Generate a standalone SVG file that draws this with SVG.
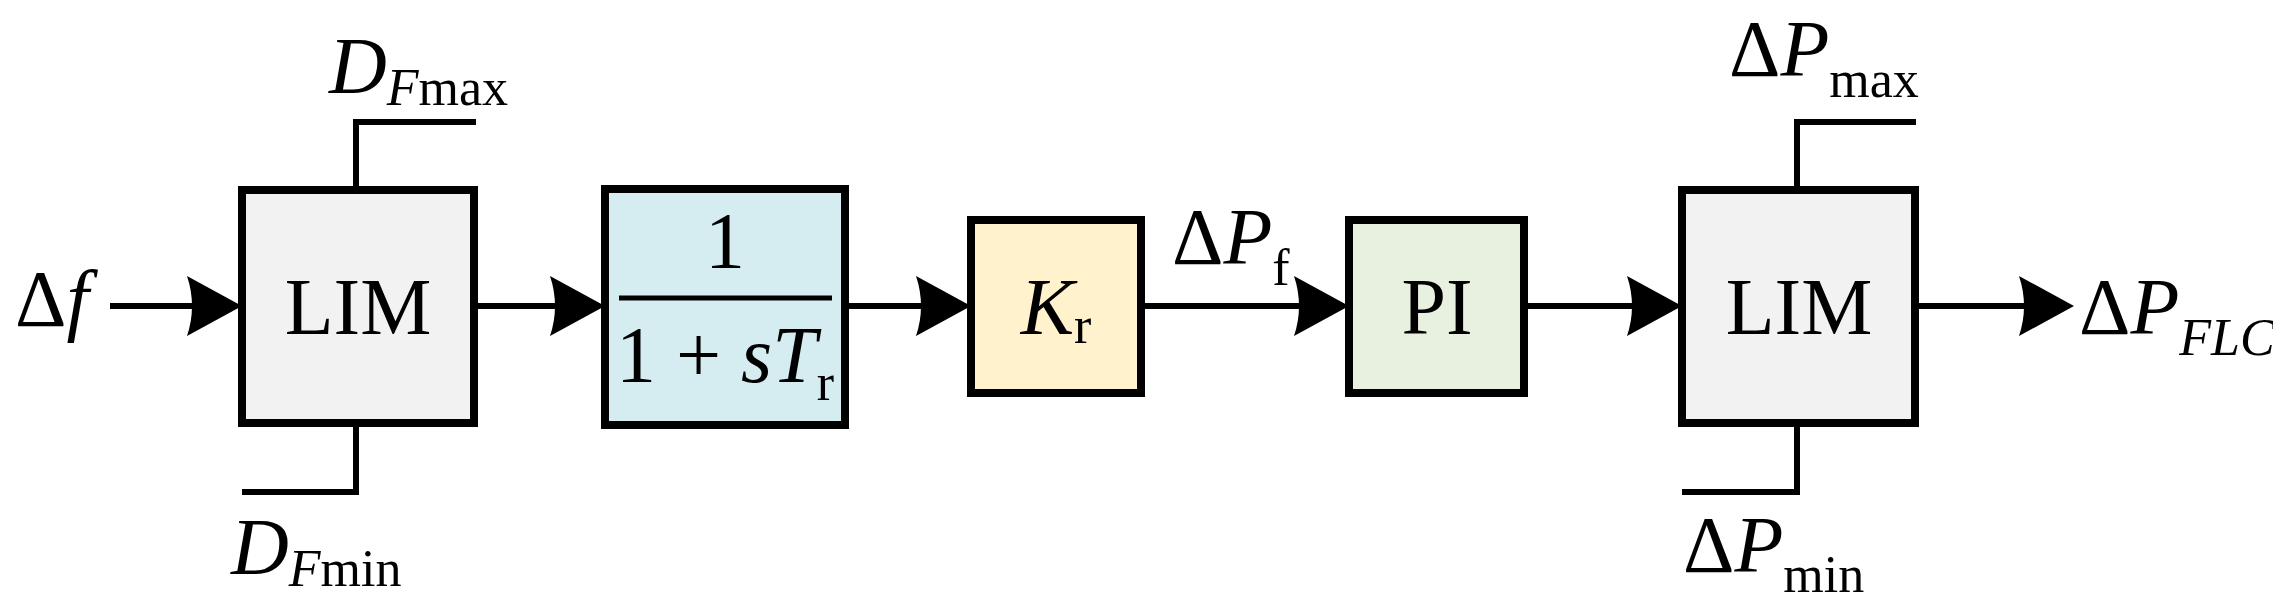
<svg xmlns="http://www.w3.org/2000/svg" width="2273" height="608" viewBox="0 0 2273 608" font-family="Liberation Serif, Times New Roman, serif">
<style>
.box{stroke:#000;stroke-width:8}
.ln{stroke:#000;stroke-width:6;fill:none}
text{font-family:'Liberation Serif','Times New Roman',serif;fill:#000}
.m{font-size:80px}
.i{font-style:italic}
.s{font-size:52px;font-style:normal}
</style>
<defs>
<path id="ah" d="M0,0 L-55,-30 Q-45,0 -55,30 Z" fill="#000"/>
</defs>
<g id="connectors">
<path class="ln" d="M110,306H200"/><use href="#ah" x="242" y="306"/>
<path class="ln" d="M474,306H565"/><use href="#ah" x="605" y="306"/>
<path class="ln" d="M845,306H930"/><use href="#ah" x="971" y="306"/>
<path class="ln" d="M1141,306H1310"/><use href="#ah" x="1349" y="306"/>
<path class="ln" d="M1524,306H1642"/><use href="#ah" x="1682" y="306"/>
<path class="ln" d="M1915,306H2035"/><use href="#ah" x="2074" y="306"/>
<path class="ln" d="M356,190V122H476"/>
<path class="ln" d="M356,423V492H242"/>
<path class="ln" d="M1797,190V122H1916"/>
<path class="ln" d="M1797,423V492H1682"/>
</g>
<g id="lim1">
<rect class="box" x="242" y="190" width="232" height="233" fill="#f2f2f2"/>
<text class="m" x="358" y="334" text-anchor="middle">LIM</text>
</g>
<g id="lag">
<rect class="box" x="605" y="189" width="240" height="236" fill="#d5edf1"/>
<text class="m" x="725" y="268" text-anchor="middle">1</text>
<path stroke="#000" stroke-width="5" d="M619,298H832"/>
<text class="m" x="725" y="382" text-anchor="middle">1 + <tspan class="i">sT</tspan><tspan class="s" dy="18">r</tspan></text>
</g>
<g id="kr">
<rect class="box" x="971" y="220" width="170" height="173" fill="#fff2cc"/>
<text class="m" x="1056" y="334" text-anchor="middle"><tspan class="i">K</tspan><tspan class="s" dy="9">r</tspan></text>
</g>
<g id="pi">
<rect class="box" x="1349" y="220" width="175" height="173" fill="#e8f0e0"/>
<text class="m" x="1437" y="334" text-anchor="middle">PI</text>
</g>
<g id="lim2">
<rect class="box" x="1682" y="190" width="233" height="233" fill="#f2f2f2"/>
<text class="m" x="1799" y="334" text-anchor="middle">LIM</text>
</g>
<g id="labels">
<text class="m" x="15" y="326">Δ<tspan class="i">f</tspan></text>
<text class="m" x="329" y="93"><tspan class="i">D</tspan><tspan class="s" dy="12"><tspan class="i">F</tspan>max</tspan></text>
<text class="m" x="231" y="574"><tspan class="i">D</tspan><tspan class="s" dy="12"><tspan class="i">F</tspan>min</tspan></text>
<text class="m" x="1172" y="264">Δ<tspan class="i">P</tspan><tspan class="s" dy="21">f</tspan></text>
<text class="m" x="1729" y="76">Δ<tspan class="i">P</tspan><tspan class="s" dy="21">max</tspan></text>
<text class="m" x="1683" y="572">Δ<tspan class="i">P</tspan><tspan class="s" dy="20">min</tspan></text>
<text class="m" x="2079" y="334">Δ<tspan class="i">P</tspan><tspan class="s i" dy="21" style="font-style:italic">FLC</tspan></text>
</g>
</svg>
